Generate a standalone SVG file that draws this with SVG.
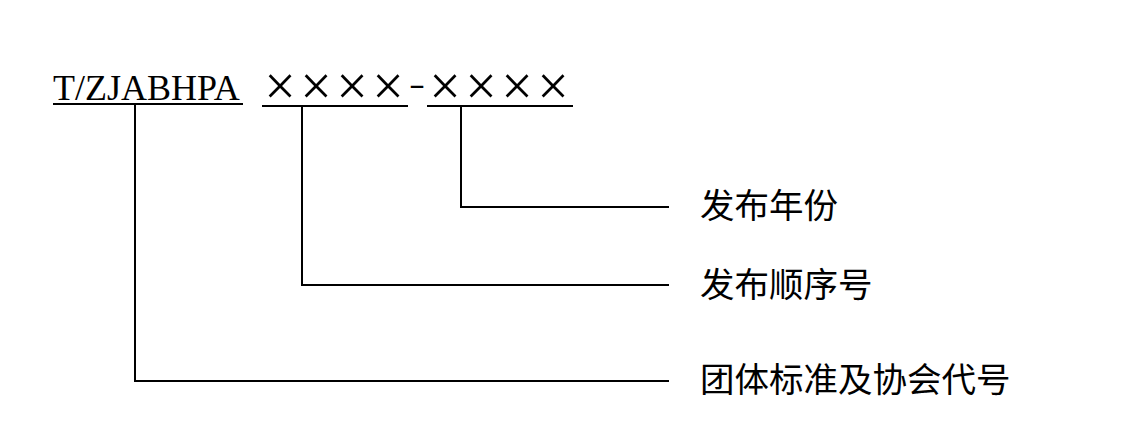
<svg xmlns="http://www.w3.org/2000/svg" width="1124" height="440" viewBox="0 0 1124 440">
<style>
.code{font-family:"Liberation Serif","Times New Roman",serif;font-size:36px;fill:#000}
.x{font-family:"Liberation Serif","Times New Roman",serif;font-size:56px;fill:#000;text-anchor:middle}
.dash{font-family:"Liberation Serif","Times New Roman",serif;font-size:32px;fill:#000}
.lbl{font-family:"Noto Sans CJK SC","Noto Sans",sans-serif;font-size:34.5px;fill:#000}
.ul{stroke:#000;stroke-width:2;fill:none}
.conn{stroke:#000;stroke-width:2;fill:none}
</style>
<rect width="1124" height="440" fill="#fff"/>
<g id="code-prefix">
<text class="code" x="53" y="100">T/ZJABHPA</text>
<line class="ul" x1="53" y1="104" x2="243" y2="104"/>
</g>
<g id="code-seq">
<text class="x" x="280 316 352 388" y="105">××××</text>
<line class="ul" x1="262" y1="106" x2="408" y2="106"/>
</g>
<text class="dash" x="409" y="94" textLength="16" lengthAdjust="spacingAndGlyphs">-</text>
<g id="code-year">
<text class="x" x="445 481 517 553" y="105">××××</text>
<line class="ul" x1="427" y1="106" x2="573" y2="106"/>
</g>
<g id="label-year"><text class="lbl" x="700" y="218">发布年份</text></g>
<g id="label-seq"><text class="lbl" x="700" y="297">发布顺序号</text></g>
<g id="label-code"><text class="lbl" x="700" y="392">团体标准及协会代号</text></g>
<g id="connectors">
<polyline class="conn" points="461,106 461,207 669,207"/>
<polyline class="conn" points="302,106 302,285 669,285"/>
<polyline class="conn" points="135,104 135,381 669,381"/>
</g>
</svg>
